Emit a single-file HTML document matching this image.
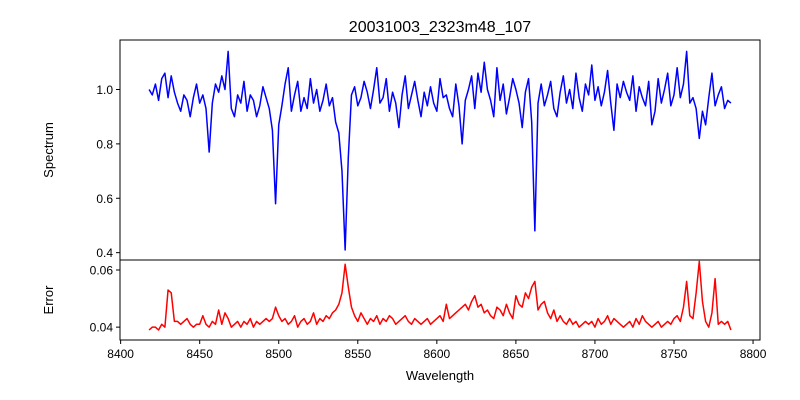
<!DOCTYPE html>
<html><head><meta charset="utf-8"><style>
body{margin:0;background:#fff}
svg{display:block;font-family:"Liberation Sans","DejaVu Sans",sans-serif}
</style></head><body>
<svg id="chart" width="800" height="400" viewBox="0 0 800 400">
<rect width="800" height="400" fill="#fff"/>
<text x="440" y="32" font-size="16" text-anchor="middle">20031003_2323m48_107</text>
<text x="0" y="0" font-size="13" text-anchor="middle" transform="translate(53,150) rotate(-90)">Spectrum</text>
<text x="0" y="0" font-size="13" text-anchor="middle" transform="translate(53,300) rotate(-90)">Error</text>
<text x="440" y="380" font-size="13" text-anchor="middle">Wavelength</text>
<g id="plots"></g>
</svg>
<script>
const wlStart = 8418, wlStep = 2;
const spectrum = [
1.00,0.98,1.02,0.96,1.04,1.06,0.97,1.05,0.99,0.95,
0.92,0.98,0.96,0.90,0.97,1.02,0.95,0.98,0.93,0.77,
0.95,1.02,0.99,1.05,1.00,1.14,0.93,0.90,0.98,0.95,
1.03,0.92,0.98,0.96,0.90,0.94,1.01,0.97,0.93,0.85,
0.58,0.87,0.94,1.02,1.08,0.92,0.98,1.03,0.92,0.97,
0.93,1.04,0.95,1.00,0.92,0.96,1.02,0.94,0.97,0.88,
0.84,0.70,0.41,0.75,0.98,1.01,0.94,0.97,1.03,0.99,
0.93,1.00,1.08,0.95,0.97,1.04,0.92,0.99,0.95,0.86,
0.98,1.05,0.93,0.98,1.03,0.96,0.90,0.99,0.94,1.01,
0.95,0.92,1.04,0.97,0.98,0.93,0.90,1.02,0.94,0.80,
0.96,1.00,1.05,0.93,1.06,0.99,1.10,1.00,0.96,0.90,
1.08,0.96,1.02,0.91,0.97,1.04,1.00,0.95,0.86,0.99,
1.04,0.88,0.48,0.95,1.02,0.94,0.98,1.03,0.93,0.90,
0.99,1.05,0.95,1.00,0.93,1.06,0.97,0.92,1.02,0.98,
1.09,0.96,1.01,0.94,0.99,1.07,0.95,0.85,1.02,0.97,
1.03,0.99,0.96,1.05,0.92,1.01,0.97,0.94,1.03,0.87,
0.92,1.04,0.95,1.00,1.06,0.94,0.98,1.08,0.97,1.02,
1.14,0.95,0.97,0.93,0.82,0.92,0.87,0.97,1.06,0.94,
0.98,1.01,0.93,0.96,0.95];
const errors = [
.039,.040,.040,.039,.041,.040,.053,.052,.042,.042,
.041,.042,.043,.041,.040,.041,.041,.044,.041,.040,
.042,.041,.046,.041,.045,.043,.040,.041,.042,.040,
.042,.041,.043,.040,.042,.041,.042,.043,.042,.043,
.047,.044,.042,.043,.041,.042,.044,.040,.042,.043,
.041,.042,.045,.041,.043,.042,.044,.043,.045,.046,
.048,.052,.062,.054,.047,.044,.042,.045,.043,.041,
.043,.042,.044,.041,.043,.042,.044,.043,.041,.042,
.043,.044,.042,.041,.043,.042,.041,.042,.043,.041,
.042,.043,.044,.042,.048,.043,.044,.045,.046,.047,
.048,.046,.049,.051,.047,.048,.045,.046,.044,.043,
.047,.046,.044,.048,.045,.043,.051,.048,.047,.052,
.050,.054,.056,.046,.048,.049,.045,.043,.046,.042,
.044,.042,.041,.043,.041,.042,.040,.041,.042,.041,
.042,.040,.043,.041,.042,.044,.041,.043,.042,.041,
.040,.041,.042,.040,.043,.041,.044,.042,.041,.040,
.041,.042,.040,.041,.042,.041,.043,.044,.042,.047,
.056,.044,.043,.052,.063,.049,.042,.040,.045,.057,
.041,.042,.041,.042,.039];
const xTicks = [8400,8450,8500,8550,8600,8650,8700,8750,8800];
const specTicks = [0.4,0.6,0.8,1.0];
const errTicks = [0.04,0.06];

const L=120,R=760,T=40,M=260,B=340;
const xmin=8399.6,xmax=8804.4;
const sx=w=>L+(w-xmin)/(xmax-xmin)*(R-L);
const sMin=0.373,sMax=1.182, sy=v=>T+(sMax-v)/(sMax-sMin)*(M-T);
const eMin=0.0355,eMax=0.0635, ey=v=>M+(eMax-v)/(eMax-eMin)*(B-M);
const NS="http://www.w3.org/2000/svg";
const g=document.getElementById('plots');
function mk(tag,attrs,parent){const e=document.createElementNS(NS,tag);for(const k in attrs)e.setAttribute(k,attrs[k]);(parent||g).appendChild(e);return e;}

function line(vals,fy,color,name){
  const d=vals.map((v,i)=>(i?'L':'M')+sx(wlStart+i*wlStep).toFixed(2)+','+fy(v).toFixed(2)).join('');
  const p=mk('path',{d:d,fill:'none',stroke:color,'stroke-width':1.5,'stroke-linejoin':'round'});
  
  
}
line(spectrum,sy,'#0000ff','spectrum-line');
line(errors,ey,'#ff0000','error-line');

const f1=mk('rect',{x:L,y:T,width:R-L,height:M-T,fill:'none',stroke:'#000','stroke-width':1});


const f2=mk('rect',{x:L,y:M,width:R-L,height:B-M,fill:'none',stroke:'#000','stroke-width':1});



xTicks.forEach(t=>{
  const x=sx(t);
  const tk=mk('line',{x1:x,x2:x,y1:B,y2:B+4,stroke:'#000'});
  
  
  const tx=mk('text',{x:x,y:B+18,'font-size':12,'text-anchor':'middle'});
  tx.textContent=t;
  
  
});
function yt(ticks,fy,nm){
  ticks.forEach(t=>{
    const y=fy(t);
    const tk=mk('line',{x1:L-4,x2:L,y1:y,y2:y,stroke:'#000'});
    
    
    const tx=mk('text',{x:L-7,y:y+4.5,'font-size':12,'text-anchor':'end'});
    tx.textContent=t.toFixed(nm==='error'?2:1);
    
    
  });
}
yt(specTicks,sy,'spectrum');
yt(errTicks,ey,'error');
</script>
</body></html>
